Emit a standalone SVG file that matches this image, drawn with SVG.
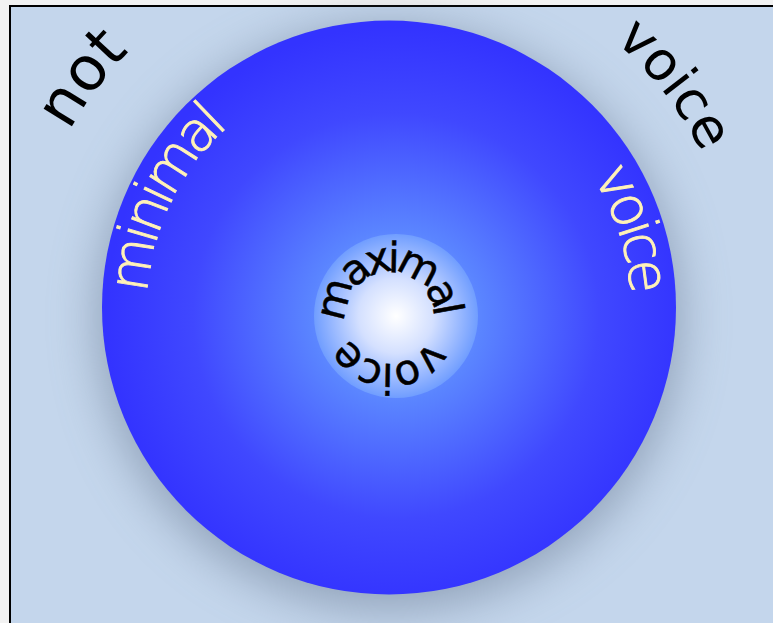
<svg xmlns="http://www.w3.org/2000/svg" xmlns:xlink="http://www.w3.org/1999/xlink" width="773" height="623" viewBox="0 0 773 623">
  <style>
    .outer { font-family: "DejaVu Sans", "Liberation Sans", sans-serif; font-size: 54px; fill: #000000; }
    .big { font-size: 61px; }
    .rim { font-family: "DejaVu Sans", "Liberation Sans", sans-serif; font-weight: 200; font-size: 55px; letter-spacing: -5px; fill: #fff2b8; stroke: #fff2b8; stroke-width: 0.9px; }
    .core { font-family: "DejaVu Sans", "Liberation Sans", sans-serif; font-size: 42px; fill: #000000; stroke: #000000; stroke-width: 0.5px; }
    .tight { letter-spacing: -6px; }
    .mid { letter-spacing: -3px; }
  </style>
  <defs>
    <radialGradient id="bigGrad" gradientUnits="userSpaceOnUse" cx="396" cy="316" r="290">
      <stop offset="0" stop-color="#88b0ff"/>
      <stop offset="0.3" stop-color="#5a84ff"/>
      <stop offset="0.7" stop-color="#4048ff"/>
      <stop offset="1" stop-color="#3333ff"/>
    </radialGradient>
    <radialGradient id="coreGrad" gradientUnits="userSpaceOnUse" cx="396" cy="316" r="83">
      <stop offset="0" stop-color="#ffffff"/>
      <stop offset="0.45" stop-color="#d4e0ff"/>
      <stop offset="1" stop-color="#6e9cff"/>
    </radialGradient>
    <filter id="shadow" x="-20%" y="-20%" width="140%" height="140%">
      <feGaussianBlur stdDeviation="24"/>
    </filter>
    <path id="rimPath" d="M 147 307.5 A 242 242 0 1 1 631 307.5 A 242 242 0 1 1 147 307.5"/>
    <path id="notPath" d="M 24 307.5 A 365 365 0 1 1 754 307.5 A 365 365 0 1 1 24 307.5"/>
    <path id="voicePath" d="M 40 307.5 A 349 349 0 1 1 738 307.5 A 349 349 0 1 1 40 307.5"/>
    <path id="corePath" d="M 346.7 325.6 A 44 44 0 1 1 433.3 310.4 A 44 44 0 1 1 346.7 325.6"/>
  </defs>

  <g id="background">
    <rect x="0" y="0" width="773" height="623" fill="#f2f2f2"/>
    <rect x="10" y="6" width="800" height="700" fill="#c4d6ec" stroke="#000000" stroke-width="2"/>
  </g>

  <g id="outer-circle">
    <circle cx="389" cy="318" r="292" fill="#5f6f88" opacity="0.5" filter="url(#shadow)"/>
    <circle cx="389" cy="307.5" r="287" fill="url(#bigGrad)"/>
  </g>

  <g id="inner-circle">
    <circle cx="396" cy="316" r="82" fill="url(#coreGrad)"/>
  </g>

  <g id="labels">
    <text class="outer big"><textPath xlink:href="#notPath" href="#notPath" startOffset="184">not</textPath></text>
    <text class="outer"><textPath xlink:href="#voicePath" href="#voicePath" startOffset="793">voice</textPath></text>
    <text class="rim"><textPath xlink:href="#rimPath" href="#rimPath" startOffset="14">minimal</textPath></text>
    <text class="rim"><textPath xlink:href="#rimPath" href="#rimPath" startOffset="622">voice</textPath></text>
    <text class="core tight"><textPath xlink:href="#corePath" href="#corePath" startOffset="3">maximal</textPath></text>
    <text class="core mid"><textPath xlink:href="#corePath" href="#corePath" startOffset="172">voice</textPath></text>
  </g>
</svg>
